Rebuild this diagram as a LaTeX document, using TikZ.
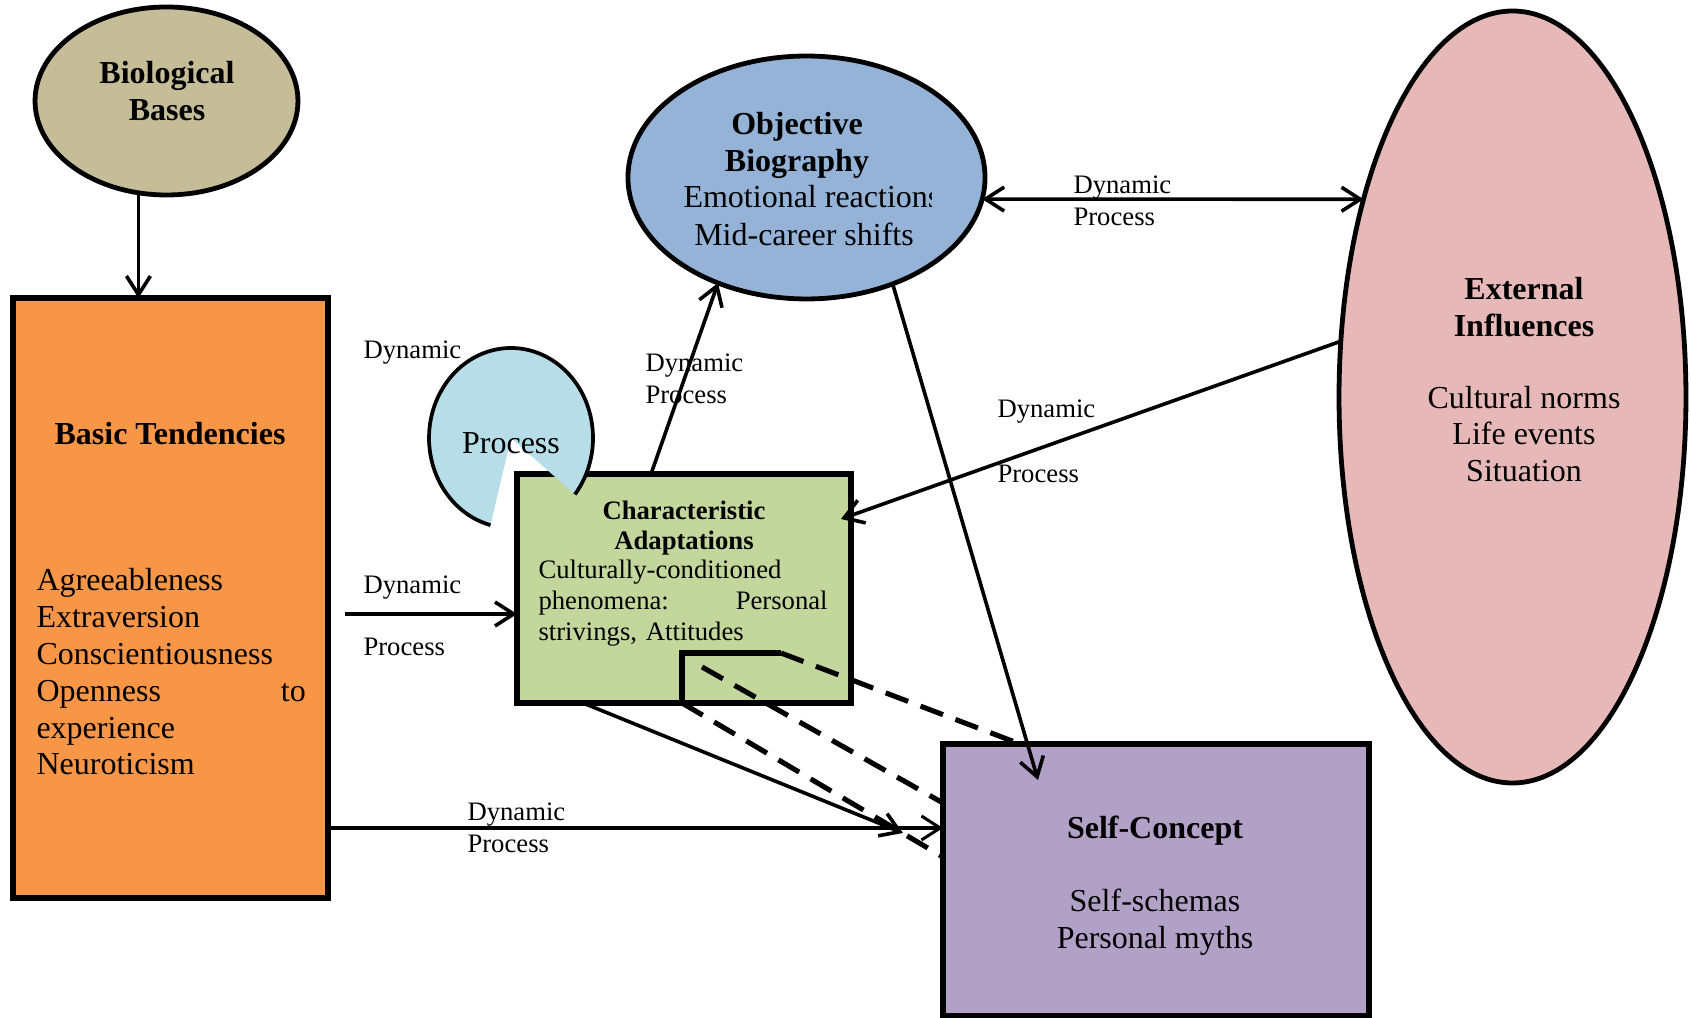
\documentclass[tikz,border=0pt]{standalone}
\usepackage{fontspec}
\setmainfont{Liberation Serif}
\usetikzlibrary{arrows.meta,shapes.geometric}

\definecolor{biofill}{HTML}{C4BD97}
\definecolor{basicfill}{HTML}{F79646}
\definecolor{adaptfill}{HTML}{C3D69B}
\definecolor{biofillblue}{HTML}{95B3D7}
\definecolor{extfill}{HTML}{E6B9B8}
\definecolor{selffill}{HTML}{B2A1C7}
\definecolor{procfill}{HTML}{B7DEE8}

\tikzset{
  shapebase/.style={draw=black, inner sep=0pt, outer sep=0pt},
  boxthick/.style={shapebase, rectangle, line width=2pt},
  oval/.style={shapebase, ellipse, line width=1.8pt},
  bigtext/.style={font=\fontsize{12}{13.8}\selectfont, inner sep=0pt, align=center},
  bigbold/.style={font=\fontsize{12}{13.8}\selectfont\bfseries, inner sep=0pt, align=center},
  smalltext/.style={font=\fontsize{10}{11.5}\selectfont, inner sep=0pt},
  smallbold/.style={font=\fontsize{10}{11.3}\selectfont\bfseries, inner sep=0pt, align=center},
  lbl/.style={font=\fontsize{10}{12.2}\selectfont, inner sep=0pt, anchor=west, align=left},
  barb/.tip={Straight Barb[length=7pt,width=9pt]},
  conn/.style={line width=1.35pt, -barb},
  dashedline/.style={line width=1.9pt, dash pattern=on 9pt off 5pt},
}

\begin{document}
\begin{tikzpicture}[x=0.375pt, y=-0.375pt]
\useasboundingbox (0,0) rectangle (1691,1018);

% ---- main shapes ----
\node[oval, fill=biofill, minimum width=98.6pt, minimum height=70.5pt] (bio) at (166.5,101) {};
\node[boxthick, fill=basicfill, minimum width=118.1pt, minimum height=225pt] (bt) at (170.5,598) {};
\node[oval, fill=biofillblue, minimum width=133.9pt, minimum height=91.1pt] (ob) at (806.5,177.5) {};
\node[oval, fill=extfill, minimum width=130.1pt, minimum height=289.5pt] (ext) at (1512.5,397) {};
\node[boxthick, fill=selffill, minimum width=159.75pt, minimum height=102pt] (sc) at (1156,880) {};
\node[boxthick, fill=adaptfill, minimum width=125.25pt, minimum height=85.9pt] (ca) at (684,588.5) {};

% ---- cut-open "Process" disc ----
\fill[procfill] (511,438) -- +(38.8:82 and 90)
  arc[start angle=38.8, end angle=-255.5, x radius=82, y radius=90] -- cycle;
\draw[line width=1.4pt] (511,438) ++(38.8:82 and 90)
  arc[start angle=38.8, end angle=-255.5, x radius=82, y radius=90];
\node[bigtext] (proctxt) at (511,443) {Process};

% ---- texts in the shapes ----
\node[bigbold] (biotxt) at (167,91) {Biological\\Bases};
\node[bigbold] (bttitle) at (170,434) {Basic Tendencies};
\node[bigtext, anchor=west, text width=101pt, align=left] (btbody) at (36,672)
  {Agreeableness\\Extraversion\\Conscientiousness\\Openness\hfill to\\experience\\Neuroticism};
\node[smallbold] (catitle) at (684,528) {Characteristic\\Adaptations};
\node[smalltext, anchor=west, text width=108.4pt, align=left] (cabody) at (538,603)
  {Culturally-conditioned\\phenomena:\hfill Personal\\strivings, Attitudes};
\node[bigbold] (obtitle) at (797,145.5) {Objective\\Biography};
\begin{scope}
  \clip (600,175) rectangle (931,220);
  \node[bigtext, anchor=west] (obline1) at (683,197) {Emotional reactions};
\end{scope}
\node[bigtext] (obline2) at (804,234) {Mid-career shifts};
\node[bigbold] (exttitle) at (1524,307) {External\\Influences};
\node[bigtext] (extbody) at (1524,434) {Cultural norms\\Life events\\Situation};
\node[bigbold] (sctitle) at (1155,831) {Self-Concept};
\node[bigtext] (scbody) at (1155,922) {Self-schemas\\Personal myths};

% ---- connector labels ----
\node[lbl] (lab1) at (363,353) {Dynamic};
\node[lbl] (lab2) at (645,379) {Dynamic\\Process};
\node[lbl] (lab3) at (1073,200.6) {Dynamic\\Process};
\node[lbl] (lab4a) at (997,412) {Dynamic};
\node[lbl] (lab4b) at (997,474) {Process};
\node[lbl] (lab5a) at (363,588) {Dynamic};
\node[lbl] (lab5b) at (363,647) {Process};
\node[lbl] (lab6) at (467,828) {Dynamic\\Process};

% ---- connector end points ----
\coordinate (btca) at (345,614);
\coordinate (btsc) at (328,828);
\coordinate (casc0) at (583,703);
\coordinate (casc1) at (903,833);
\coordinate (caob) at (651,474);
\coordinate (obsc) at (1038,780);
\coordinate (extca) at (841,519);
\coordinate (elbA) at (781,653);
\coordinate (elbB) at (682,653);
\coordinate (elbC) at (682,703);
\coordinate (dashS) at (702,667);
\coordinate (scA) at (1020,744);
\coordinate (scB) at (943,803);
\coordinate (scC) at (943,857);

% ---- connectors ----
\draw[conn] (bio.-107) -- (bio.-107 |- bt.north);
\draw[conn] (btca) -- (btca -| ca.west);
\draw[conn, line width=1.15pt] (btsc) -- (btsc -| sc.west);
\draw[conn] (casc0) -- (casc1);
\draw[conn] (caob) -- (ob.230);
\draw[conn] (ob.-51) -- (obsc);
\draw[line width=1.35pt, barb-barb] (ob.-7) -- (ext.127);
\draw[conn] (ext.162) -- (extca);

% ---- elbow with dashed links ----
\draw[line width=1.9pt] (elbA) -- (elbB) -- (elbC);
\draw[dashedline] (elbA) -- (scA);
\draw[dashedline] (dashS) -- (scB);
\draw[dashedline] (elbC) -- (scC);
\end{tikzpicture}
\end{document}
